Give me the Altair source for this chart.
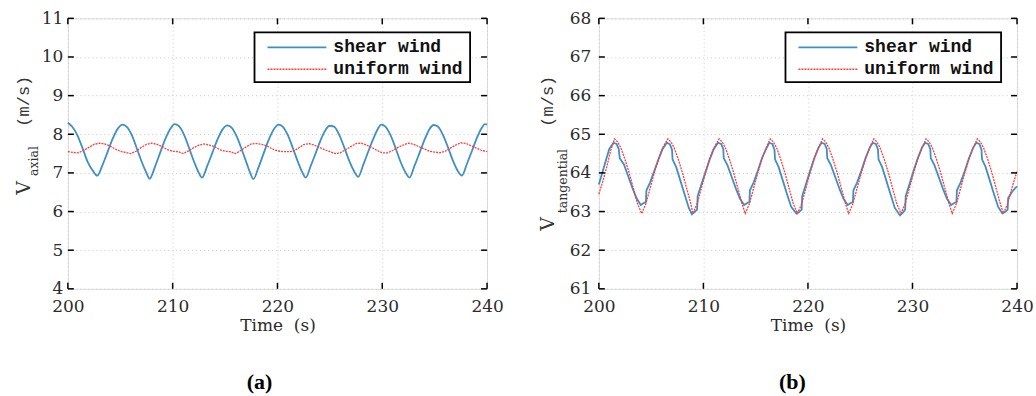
import altair as alt
import pandas as pd

# ---------------- data ----------------
series_names = ["shear wind", "uniform wind"]
x_ticks = [200, 210, 220, 230, 240]
ya_ticks = [4, 5, 6, 7, 8, 9, 10, 11]
yb_ticks = [61, 62, 63, 64, 65, 66, 67, 68]

# (a) axial velocity, shear wind
a_shear_t = [200.0, 200.4, 200.9, 201.4, 201.9, 202.4, 202.8,
             203.3, 203.8, 204.3, 204.8, 205.2,
             205.6, 206.1, 206.6, 207.1, 207.5, 207.8,
             208.3, 208.8, 209.3, 209.8, 210.2,
             210.6, 211.1, 211.6, 212.1, 212.5, 212.8,
             213.3, 213.8, 214.3, 214.8, 215.2,
             215.6, 216.1, 216.6, 217.1, 217.4, 217.7,
             218.2, 218.7, 219.2, 219.7, 220.1,
             220.5, 221.0, 221.5, 222.0, 222.4, 222.7,
             223.2, 223.7, 224.2, 224.6, 225.0,
             225.4, 225.9, 226.4, 226.9, 227.3, 227.7,
             228.2, 228.7, 229.2, 229.6, 229.9,
             230.3, 230.8, 231.3, 231.8, 232.2, 232.6,
             233.1, 233.6, 234.1, 234.5, 234.9,
             235.3, 235.8, 236.3, 236.8, 237.2, 237.6,
             238.1, 238.6, 239.1, 239.5, 239.8, 240.0]
a_shear_v = [8.30, 8.20, 7.98, 7.64, 7.28, 7.05, 6.93,
             7.20, 7.55, 7.90, 8.16, 8.25,
             8.20, 7.98, 7.62, 7.25, 7.00, 6.85,
             7.15, 7.52, 7.88, 8.15, 8.26,
             8.21, 7.98, 7.62, 7.25, 7.00, 6.88,
             7.18, 7.53, 7.88, 8.14, 8.23,
             8.18, 7.95, 7.60, 7.22, 7.00, 6.84,
             7.15, 7.52, 7.88, 8.15, 8.25,
             8.20, 7.97, 7.62, 7.25, 7.00, 6.88,
             7.20, 7.55, 7.90, 8.12, 8.22,
             8.20, 7.98, 7.64, 7.28, 7.05, 6.90,
             7.22, 7.58, 7.92, 8.15, 8.25,
             8.20, 7.97, 7.62, 7.25, 7.02, 6.88,
             7.20, 7.55, 7.90, 8.13, 8.24,
             8.20, 7.98, 7.64, 7.28, 7.05, 6.93,
             7.25, 7.60, 7.95, 8.17, 8.26, 8.25]

# (a) axial velocity, uniform wind (0.5 s steps)
a_unif_t = [200.0 + 0.5 * i for i in range(81)]
a_unif_v = [7.55, 7.53, 7.52, 7.58, 7.66, 7.74, 7.77, 7.75, 7.70, 7.62,
            7.56, 7.53, 7.50, 7.56, 7.66, 7.74, 7.77, 7.74, 7.68, 7.60,
            7.56, 7.55, 7.50, 7.57, 7.65, 7.72, 7.75, 7.72, 7.68, 7.60,
            7.56, 7.55, 7.50, 7.58, 7.67, 7.75, 7.76, 7.74, 7.70, 7.62,
            7.57, 7.55, 7.55, 7.56, 7.64, 7.73, 7.76, 7.72, 7.66, 7.60,
            7.55, 7.50, 7.52, 7.60, 7.68, 7.76, 7.77, 7.72, 7.66, 7.58,
            7.52, 7.52, 7.58, 7.66, 7.72, 7.77, 7.74, 7.68, 7.62, 7.56,
            7.54, 7.52, 7.56, 7.64, 7.72, 7.78, 7.76, 7.70, 7.64, 7.58,
            7.55]

# (b) tangential velocity, shear wind
b_shear_t = [200.0, 200.3, 200.7, 201.0, 201.4, 201.7, 201.9, 202.0, 202.4, 202.8,
             203.2, 203.6, 204.0, 204.3, 204.5, 204.55, 204.9, 205.3, 205.7, 206.1,
             206.5, 206.8, 207.0, 207.05, 207.4, 207.8, 208.2, 208.6, 208.9, 209.2,
             209.4, 209.45, 209.8, 210.2, 210.6, 211.0, 211.4, 211.7, 211.9, 211.95,
             212.3, 212.7, 213.1, 213.5, 213.9, 214.2, 214.4, 214.45, 214.8, 215.2,
             215.6, 216.0, 216.3, 216.6, 216.8, 216.85, 217.2, 217.6, 218.0, 218.4,
             218.9, 219.2, 219.4, 219.45, 219.8, 220.2, 220.6, 221.0, 221.3, 221.6,
             221.8, 221.85, 222.2, 222.6, 223.0, 223.4, 223.8, 224.1, 224.3, 224.35,
             224.7, 225.1, 225.5, 225.9, 226.2, 226.5, 226.7, 226.75, 227.1, 227.5,
             227.9, 228.3, 228.8, 229.1, 229.3, 229.35, 229.7, 230.1, 230.5, 230.9,
             231.2, 231.5, 231.7, 231.75, 232.1, 232.5, 232.9, 233.3, 233.7, 234.0,
             234.2, 234.25, 234.6, 235.0, 235.4, 235.8, 236.1, 236.4, 236.6, 236.65,
             237.0, 237.4, 237.8, 238.2, 238.6, 238.9, 239.1, 239.15, 239.5, 239.8,
             240.0]
b_shear_v = [63.70, 63.98, 64.35, 64.62, 64.78, 64.75, 64.62, 64.38, 64.22, 63.92,
             63.62, 63.35, 63.17, 63.22, 63.25, 63.55, 63.75, 64.05, 64.35, 64.62,
             64.78, 64.74, 64.60, 64.35, 64.15, 63.80, 63.45, 63.10, 62.93, 63.00,
             63.05, 63.40, 63.70, 64.02, 64.35, 64.62, 64.78, 64.75, 64.62, 64.38,
             64.20, 63.90, 63.60, 63.33, 63.17, 63.22, 63.25, 63.55, 63.75, 64.05,
             64.38, 64.62, 64.78, 64.75, 64.60, 64.35, 64.15, 63.80, 63.45, 63.12,
             62.95, 63.00, 63.05, 63.40, 63.70, 64.05, 64.38, 64.65, 64.78, 64.75,
             64.62, 64.38, 64.20, 63.90, 63.60, 63.33, 63.17, 63.22, 63.25, 63.55,
             63.75, 64.05, 64.38, 64.65, 64.78, 64.75, 64.60, 64.35, 64.15, 63.80,
             63.45, 63.10, 62.90, 62.98, 63.05, 63.40, 63.70, 64.05, 64.38, 64.65,
             64.78, 64.75, 64.62, 64.38, 64.20, 63.90, 63.60, 63.33, 63.17, 63.22,
             63.25, 63.55, 63.75, 64.05, 64.38, 64.65, 64.78, 64.75, 64.60, 64.35,
             64.15, 63.80, 63.45, 63.12, 62.95, 63.00, 63.05, 63.35, 63.50, 63.60,
             63.65]

# (b) tangential velocity, uniform wind
b_unif_t = [200.0, 200.4, 200.8, 201.1, 201.5,
            201.8, 202.1, 202.5, 202.9, 203.3, 203.7, 204.1,
            204.5, 204.9, 205.3, 205.7, 206.1, 206.6,
            206.9, 207.2, 207.6, 208.0, 208.4, 208.8, 209.0,
            209.4, 209.8, 210.2, 210.6, 211.0, 211.5,
            211.8, 212.1, 212.5, 212.9, 213.3, 213.7, 214.0,
            214.4, 214.8, 215.2, 215.6, 216.0, 216.4,
            216.7, 217.0, 217.4, 217.8, 218.2, 218.6, 219.0,
            219.4, 219.8, 220.2, 220.6, 221.0, 221.4,
            221.7, 222.0, 222.4, 222.8, 223.2, 223.6, 223.9,
            224.3, 224.7, 225.1, 225.5, 225.9, 226.3,
            226.6, 226.9, 227.3, 227.7, 228.1, 228.5, 228.9,
            229.3, 229.7, 230.1, 230.5, 230.9, 231.3,
            231.6, 231.9, 232.3, 232.7, 233.1, 233.5, 233.8,
            234.2, 234.6, 235.0, 235.4, 235.8, 236.2,
            236.5, 236.8, 237.2, 237.6, 238.0, 238.4, 238.7,
            239.1, 239.5, 240.0]
b_unif_v = [63.45, 63.80, 64.20, 64.55, 64.88,
            64.80, 64.65, 64.35, 64.00, 63.60, 63.20, 62.95,
            63.20, 63.60, 64.00, 64.35, 64.65, 64.88,
            64.80, 64.65, 64.35, 64.00, 63.60, 63.20, 62.95,
            63.20, 63.60, 64.00, 64.35, 64.65, 64.88,
            64.80, 64.65, 64.35, 64.00, 63.60, 63.20, 62.95,
            63.20, 63.60, 64.00, 64.35, 64.65, 64.88,
            64.80, 64.65, 64.35, 64.00, 63.60, 63.20, 62.95,
            63.20, 63.60, 64.00, 64.35, 64.65, 64.88,
            64.80, 64.65, 64.35, 64.00, 63.60, 63.20, 62.95,
            63.20, 63.60, 64.00, 64.35, 64.65, 64.88,
            64.80, 64.65, 64.35, 64.00, 63.60, 63.20, 62.95,
            63.20, 63.60, 64.00, 64.35, 64.65, 64.88,
            64.80, 64.65, 64.35, 64.00, 63.60, 63.20, 62.95,
            63.20, 63.60, 64.00, 64.35, 64.65, 64.88,
            64.80, 64.65, 64.35, 64.00, 63.60, 63.20, 62.95,
            63.20, 63.60, 64.05]

BLUE = "#3f8fc4"
RED = "#ff3c3c"
GRID = "#c9c9c9"
LABEL_FONT = "DejaVu Serif"
MONO = "Liberation Mono"
X_TITLE = "Time\u00a0\u00a0(s)"


def panel(shear_t, shear_v, unif_t, unif_v, yticks, width, height,
          v_sub, ylab_pad, ytitle_x, sub_x, v_y, sub_y, caption, cap_x,
          left_edge, right_edge, shear_interp):
    xdom = [x_ticks[0], x_ticks[-1]]
    ydom = [yticks[0], yticks[-1]]
    xs = alt.Scale(domain=xdom, nice=False, zero=False)
    ys = alt.Scale(domain=ydom, nice=False, zero=False)

    xax = alt.Axis(values=x_ticks, grid=True, gridDash=[1, 3], gridColor=GRID,
                   gridWidth=1, ticks=False, domain=False, labelFlush=False,
                   labelOverlap=False, labelFont=LABEL_FONT, labelFontSize=17,
                   labelColor="#2b2b2b", labelPadding=10, title=X_TITLE,
                   titleFont=LABEL_FONT, titleFontSize=17, titleFontWeight="normal",
                   titleColor="#2b2b2b", titlePadding=3)
    yax = alt.Axis(values=yticks, grid=True, gridDash=[1, 3], gridColor=GRID,
                   gridWidth=1, ticks=False, domain=False, labelFlush=False,
                   labelOverlap=False, labelSeparation=0, labelFont=LABEL_FONT,
                   labelFontSize=17, labelColor="#2b2b2b", labelPadding=ylab_pad,
                   title=None)

    def X(field):
        return alt.X(field, scale=xs, axis=xax, title=X_TITLE)

    def Y(field):
        return alt.Y(field, scale=ys, axis=yax, title=None)

    d_shear = pd.DataFrame({"t": shear_t, "v": shear_v})
    d_unif = pd.DataFrame({"t": unif_t, "v": unif_v})

    base_shear = alt.Chart(d_shear).mark_line(color=BLUE, strokeWidth=1.8,
                                              interpolate=shear_interp).encode(
        x=X("t:Q"), y=Y("v:Q"))
    base_unif = alt.Chart(d_unif).mark_line(color=RED, strokeWidth=1.3,
                                            strokeDash=[2, 1]).encode(
        x=X("t:Q"), y=Y("v:Q"))

    # inward ticks on all four sides
    dy = pd.DataFrame({"tick": yticks})
    dx = pd.DataFrame({"tick": x_ticks})
    tl = alt.Chart(dy).mark_rule(color="black", strokeWidth=1.5).encode(
        y=Y("tick:Q"), x=alt.value(0), x2=alt.value(6))
    tr = alt.Chart(dy).mark_rule(color="black", strokeWidth=1.5).encode(
        y=Y("tick:Q"), x=alt.value(width - 6), x2=alt.value(width))
    tb = alt.Chart(dx).mark_rule(color="black", strokeWidth=1.5).encode(
        x=X("tick:Q"), y=alt.value(height - 6), y2=alt.value(height))
    tt = alt.Chart(dx).mark_rule(color="black", strokeWidth=1.5).encode(
        x=X("tick:Q"), y=alt.value(0), y2=alt.value(6))

    one = pd.DataFrame({"k": [0]})
    box = alt.Chart(one).mark_rect(fill="white", stroke="black", strokeWidth=1.8).encode(
        x=alt.value(187), x2=alt.value(403), y=alt.value(14), y2=alt.value(64))
    l1 = alt.Chart(one).mark_rule(color=BLUE, strokeWidth=1.8).encode(
        x=alt.value(200), x2=alt.value(259), y=alt.value(29))
    l2 = alt.Chart(one).mark_rule(color=RED, strokeWidth=1.3, strokeDash=[2, 1]).encode(
        x=alt.value(200), x2=alt.value(259), y=alt.value(51))
    t1 = alt.Chart(one).mark_text(align="left", baseline="middle", font=MONO,
                                  fontSize=18, fontWeight="bold", color="#111").encode(
        x=alt.value(266), y=alt.value(29), text=alt.value(series_names[0]))
    t2 = alt.Chart(one).mark_text(align="left", baseline="middle", font=MONO,
                                  fontSize=18, fontWeight="bold", color="#111").encode(
        x=alt.value(266), y=alt.value(51), text=alt.value(series_names[1]))

    # y-axis title: V with subscript, then (m/s)
    tv = alt.Chart(one).mark_text(angle=270, align="center", baseline="middle",
                                  font=LABEL_FONT, fontSize=19, color="#333").encode(
        x=alt.value(ytitle_x), y=alt.value(v_y), text=alt.value("V"))
    tsub = alt.Chart(one).mark_text(angle=270, align="center", baseline="middle",
                                    font=LABEL_FONT, fontSize=12.5, color="#333").encode(
        x=alt.value(sub_x), y=alt.value(sub_y), text=alt.value(v_sub))
    tunit = alt.Chart(one).mark_text(angle=270, align="center", baseline="middle",
                                     font=MONO, fontSize=17, color="#333").encode(
        x=alt.value(ytitle_x), y=alt.value(83), text=alt.value("(m/s)"))

    cap = alt.Chart(one).mark_text(align="center", baseline="middle",
                                   font="Liberation Serif", fontSize=22,
                                   fontWeight="bold", color="black").encode(
        x=alt.value(cap_x), y=alt.value(364), text=alt.value(caption))

    # invisible frame fixing the panel's outer bounds
    anchor = alt.Chart(one).mark_rule(opacity=0, strokeWidth=1).encode(
        x=alt.value(left_edge), x2=alt.value(right_edge),
        y=alt.value(-17), y2=alt.value(379))

    return alt.layer(base_shear, base_unif, tl, tr, tb, tt, box, l1, l2, t1, t2,
                     tv, tsub, tunit, cap, anchor).properties(width=width, height=height)


pa = panel(a_shear_t, a_shear_v, a_unif_t, a_unif_v, ya_ticks, 420, 271,
           "axial", 5, -44, -34, 170, 143, "(a)", 192, -67, 400, "monotone")
pb = panel(b_shear_t, b_shear_v, b_unif_t, b_unif_v, yb_ticks, 419, 271,
           "tangential", 8, -51, -36, 206, 163, "(b)", 194, 0, 437, "linear")

chart = alt.hconcat(pa, pb, spacing=112, bounds="flush").properties(
    padding=0,
).configure_view(stroke="black", strokeWidth=1.5).configure(background="white")

chart.save("out.html", embed_options={"renderer": "svg", "actions": False})
